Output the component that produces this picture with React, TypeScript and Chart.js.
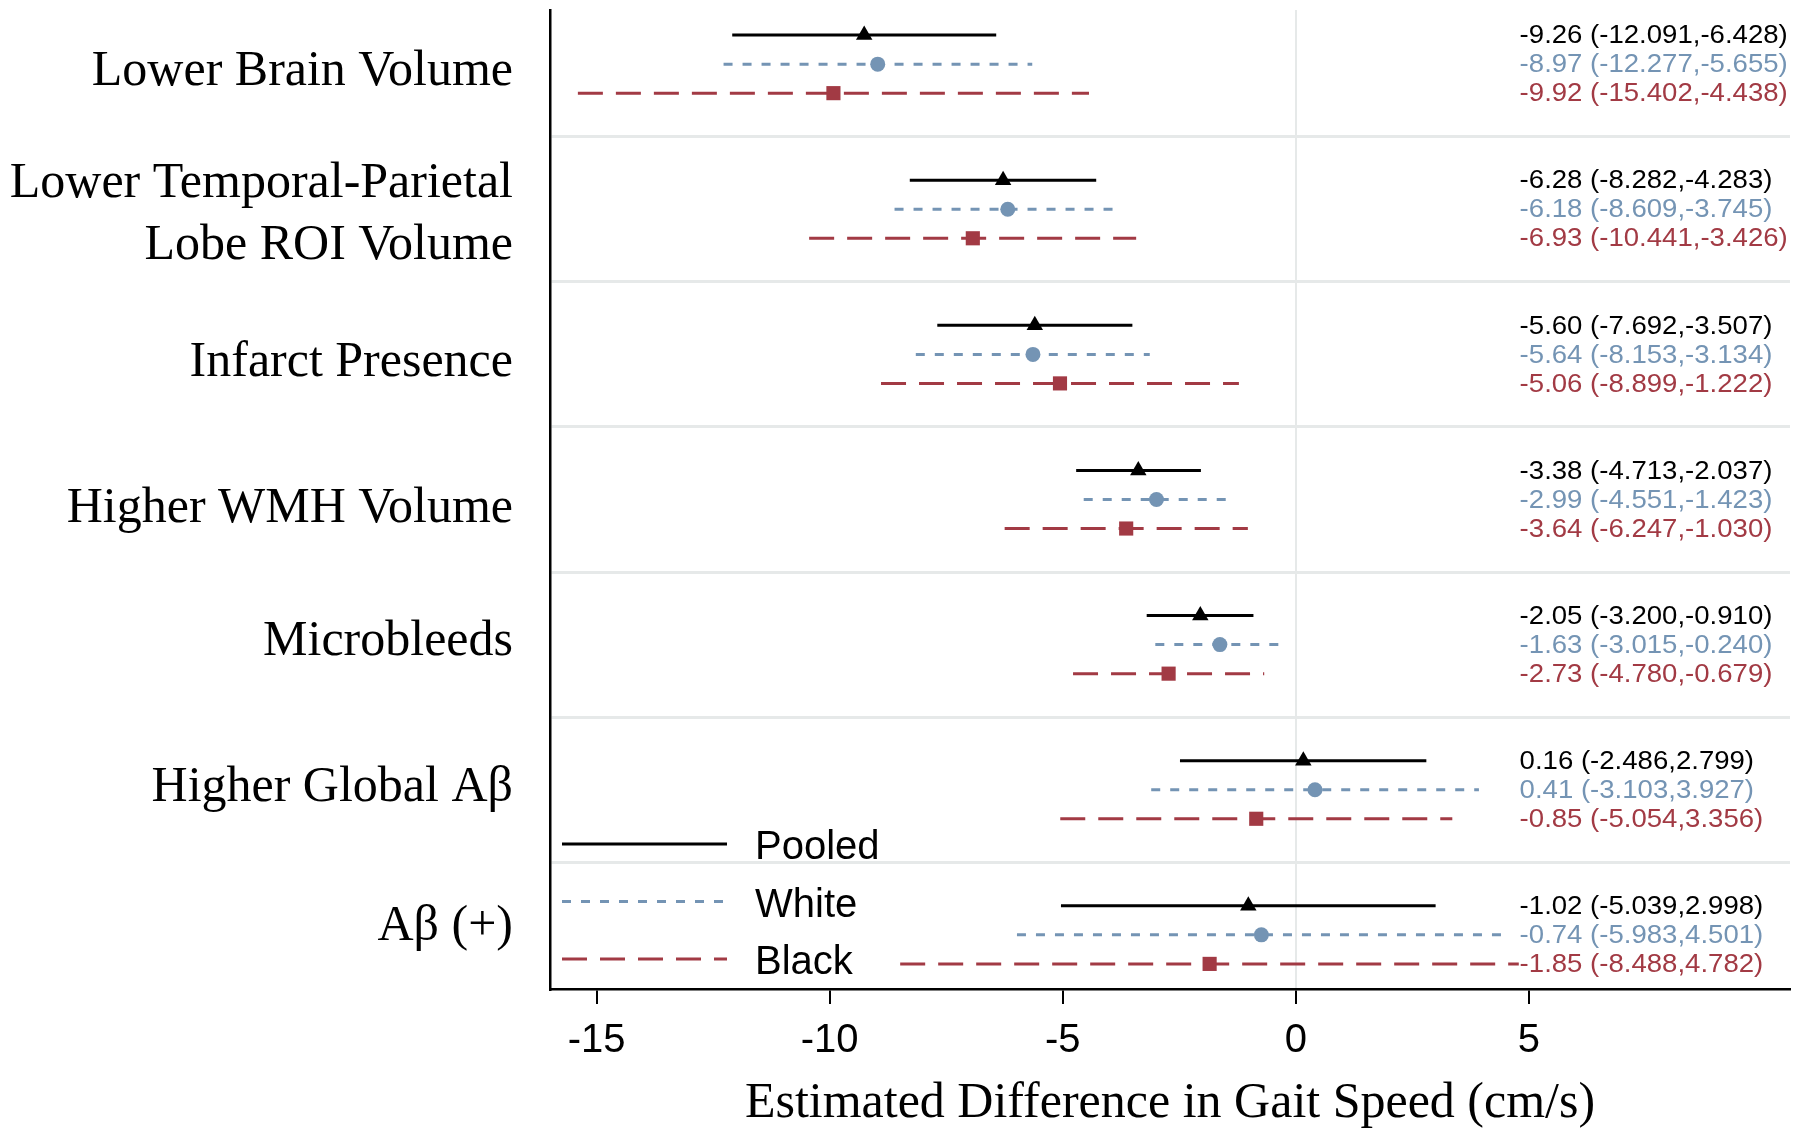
import React, { useEffect, useRef } from "react";
import { Chart, registerables } from "chart.js";

Chart.register(...registerables);

// ---------------- Data ----------------
const categories: (string | string[])[] = [
  "Lower Brain Volume",
  ["Lower Temporal-Parietal", "Lobe ROI Volume"],
  "Infarct Presence",
  "Higher WMH Volume",
  "Microbleeds",
  "Higher Global Aβ",
  "Aβ (+)",
];

const seriesNames = ["Pooled", "White", "Black"];

const pooledEst = [-9.26, -6.28, -5.6, -3.38, -2.05, 0.16, -1.02];
const pooledLo = [-12.091, -8.282, -7.692, -4.713, -3.2, -2.486, -5.039];
const pooledHi = [-6.428, -4.283, -3.507, -2.037, -0.91, 2.799, 2.998];

const whiteEst = [-8.97, -6.18, -5.64, -2.99, -1.63, 0.41, -0.74];
const whiteLo = [-12.277, -8.609, -8.153, -4.551, -3.015, -3.103, -5.983];
const whiteHi = [-5.655, -3.745, -3.134, -1.423, -0.24, 3.927, 4.501];

const blackEst = [-9.92, -6.93, -5.06, -3.64, -2.73, -0.85, -1.85];
const blackLo = [-15.402, -10.441, -8.899, -6.247, -4.78, -5.054, -8.488];
const blackHi = [-4.438, -3.426, -1.222, -1.03, -0.679, 3.356, 4.782];

const xTicks = [-15, -10, -5, 0, 5];
const xTitle = "Estimated Difference in Gait Speed (cm/s)";

// ---------------- Styles ----------------
const COL_POOLED = "#000000";
const COL_WHITE = "#7494b4";
const COL_BLACK = "#a23a44";
const GRID_COL = "#e6e9e9";
const LABEL_FONT = "50px 'Liberation Serif', 'Times New Roman', serif";
const LABEL_LINE_H = 62;
const LABEL_DY = [8, 6, 8, 9, -3, -2, -8]; // per-label vertical nudge (px)

const series = [
  { name: seriesNames[0], est: pooledEst, lo: pooledLo, hi: pooledHi, color: COL_POOLED, dash: [] as number[], off: -0.2, point: "triangle", radius: 9.5 },
  { name: seriesNames[1], est: whiteEst, lo: whiteLo, hi: whiteHi, color: COL_WHITE, dash: [9, 10], off: 0, point: "circle", radius: 7.5 },
  { name: seriesNames[2], est: blackEst, lo: blackLo, hi: blackHi, color: COL_BLACK, dash: [25, 13], off: 0.2, point: "rect", radius: 10 },
];

function ciData(s: typeof series[number]) {
  const out: { x: number | null; y: number | null }[] = [];
  s.lo.forEach((lo, i) => {
    out.push({ x: lo, y: i + s.off });
    out.push({ x: s.hi[i], y: i + s.off });
    out.push({ x: null, y: null });
  });
  return out;
}

const fmt = (e: number, l: number, h: number) =>
  `${e.toFixed(2)} (${l.toFixed(3)},${h.toFixed(3)})`;

const overlayPlugin = {
  id: "overlay",
  beforeDraw(chart: any) {
    const { ctx } = chart;
    ctx.save();
    ctx.fillStyle = "#ffffff";
    ctx.fillRect(0, 0, chart.width, chart.height);
    ctx.restore();
  },
  afterDraw(chart: any) {
    const { ctx, chartArea } = chart;
    const xs = chart.scales.x;
    const ys = chart.scales.y;
    // category labels
    ctx.save();
    ctx.font = LABEL_FONT;
    ctx.fillStyle = "#000";
    ctx.textAlign = "right";
    ctx.textBaseline = "middle";
    categories.forEach((c, i) => {
      const lines = Array.isArray(c) ? c : [c];
      const yc = ys.getPixelForValue(i) + LABEL_DY[i];
      lines.forEach((ln, k) => {
        const y = yc + (k - (lines.length - 1) / 2) * LABEL_LINE_H;
        ctx.fillText(ln, chartArea.left - 37, y);
      });
    });
    ctx.restore();
    // annotations
    ctx.save();
    ctx.font = "26px 'Liberation Sans', Arial, sans-serif";
    ctx.textBaseline = "middle";
    ctx.textAlign = "left";
    const ax = xs.getPixelForValue(4.8);
    series.forEach((s) => {
      ctx.fillStyle = s.color;
      s.est.forEach((e, i) => {
        const y = ys.getPixelForValue(i + s.off);
        ctx.save();
        ctx.translate(ax, y + 1);
        ctx.scale(1.06, 1);
        ctx.fillText(fmt(e, s.lo[i], s.hi[i]), 0, 0);
        ctx.restore();
      });
    });
    ctx.restore();
    // legend
    ctx.save();
    const lx0 = chartArea.left + 12;
    const lx1 = chartArea.left + 177;
    const tx = chartArea.left + 205;
    series.forEach((s, k) => {
      const y = chartArea.bottom - 145 + k * 57.5;
      ctx.strokeStyle = s.color;
      ctx.lineWidth = 3;
      ctx.setLineDash(s.dash);
      ctx.beginPath();
      ctx.moveTo(lx0, y);
      ctx.lineTo(lx1, y);
      ctx.stroke();
      ctx.setLineDash([]);
      ctx.fillStyle = "#000";
      ctx.font = "40px 'Liberation Sans', Arial, sans-serif";
      ctx.textBaseline = "middle";
      ctx.fillText(s.name, tx, y + 4);
    });
    ctx.restore();
  },
};

function zeroPad(scale: any) {
  scale.paddingTop = 0;
  scale.paddingBottom = 0;
  scale.paddingLeft = 0;
  scale.paddingRight = 0;
}

export default function App() {
  const ref = useRef<HTMLCanvasElement | null>(null);
  useEffect(() => {
    if (!ref.current) return;
    const datasets: any[] = [];
    series.forEach((s) => {
      datasets.push({
        label: s.name,
        data: ciData(s),
        borderColor: s.color,
        borderWidth: 3,
        borderDash: s.dash,
        pointRadius: 0,
        spanGaps: false,
        fill: false,
        order: 2,
      });
    });
    series.forEach((s) => {
      datasets.push({
        label: s.name + " estimate",
        data: s.est.map((e, i) => ({ x: e, y: i + s.off })),
        showLine: false,
        pointStyle: s.point,
        pointRadius: s.radius,
        pointBackgroundColor: s.color,
        pointBorderColor: s.color,
        pointBorderWidth: 0,
        borderColor: s.color,
        order: 1,
      });
    });
    const chart = new Chart(ref.current, {
      type: "line",
      data: { datasets },
      plugins: [overlayPlugin],
      options: {
        responsive: false,
        animation: false,
        events: [],
        layout: { padding: { top: 8, right: 10, left: 0, bottom: 0 } },
        plugins: { legend: { display: false }, tooltip: { enabled: false } },
        scales: {
          x: {
            type: "linear",
            min: -16,
            max: 10.6,
            afterBuildTicks: (scale: any) => {
              scale.ticks = xTicks.map((v) => ({ value: v }));
            },
            afterFit: (scale: any) => {
              scale.height = 147;
              zeroPad(scale);
            },
            grid: {
              color: (c: any) => (c.tick && c.tick.value === 0 ? GRID_COL : "rgba(0,0,0,0)"),
              lineWidth: 2,
              tickColor: "#000",
              tickLength: 15,
              tickWidth: 2,
              drawTicks: true,
            },
            border: { display: true, color: "#000", width: 2.5 },
            ticks: {
              color: "#000",
              font: { family: "'Liberation Sans', Arial, sans-serif", size: 40 },
              padding: 13,
              maxRotation: 0,
              autoSkip: false,
            },
            title: {
              display: true,
              text: xTitle,
              color: "#000",
              font: { family: "'Liberation Serif', 'Times New Roman', serif", size: 50 },
              padding: { top: 0, bottom: 2 },
            },
          },
          y: {
            type: "linear",
            reverse: true,
            min: -0.373,
            max: 6.373,
            afterBuildTicks: (scale: any) => {
              scale.ticks = categories.map((_, i) => ({ value: i }));
            },
            afterFit: (scale: any) => {
              scale.width = 550;
              zeroPad(scale);
            },
            grid: {
              offset: true,
              color: GRID_COL,
              lineWidth: 3,
              drawTicks: false,
            },
            border: { display: true, color: "#000", width: 2.5 },
            ticks: { display: false },
          },
        },
      } as any,
    });
    return () => chart.destroy();
  }, []);
  return (
    <div style={{ position: "fixed", left: 0, top: 0, width: 1800, height: 1136, background: "#fff" }}>
      <canvas ref={ref} width={1800} height={1136} style={{ width: 1800, height: 1136, display: "block" }} />
    </div>
  );
}
